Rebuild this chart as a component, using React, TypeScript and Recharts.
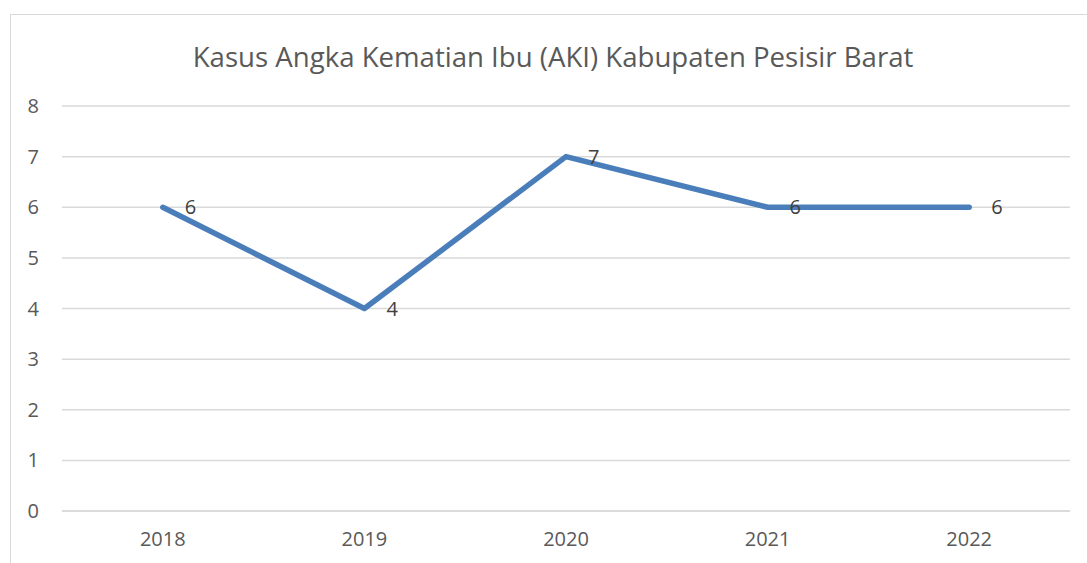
import React from 'react';
import { LineChart, Line, XAxis, YAxis, CartesianGrid, LabelList } from 'recharts';

const years = ['2018', '2019', '2020', '2021', '2022'];
const cases = [6, 4, 7, 6, 6];
const yTicks = [0, 1, 2, 3, 4, 5, 6, 7, 8];
const title = 'Kasus Angka Kematian Ibu (AKI) Kabupaten Pesisir Barat';

const data = years.map((y, i) => ({ year: y, value: cases[i] }));

const FONT = '"Open Sans", sans-serif';

export default function App() {
  return (
    <div style={{ position: 'absolute', left: 0, top: 0, width: 1087, height: 563, overflow: 'hidden', background: '#fff', fontFamily: FONT }}>
      <div style={{ position: 'absolute', left: 10, top: 14, width: 1200, height: 700, border: '1.5px solid #d9d9d9', boxSizing: 'border-box' }} />
      <div style={{ position: 'absolute', left: 0, top: 36, width: 1106, textAlign: 'center', fontSize: 27.6, color: '#595959', lineHeight: '40px', whiteSpace: 'nowrap' }}>
        {title}
      </div>
      <div style={{ position: 'absolute', left: 0, top: 0 }}>
        <LineChart width={1087} height={563} data={data} margin={{ top: 106, right: 17, bottom: 22, left: 0 }}>
          <CartesianGrid vertical={false} stroke="#d9d9d9" strokeWidth={1.5} />
          <XAxis
            dataKey="year"
            height={30}
            padding={{ left: 100.8, right: 100.8 }}
            axisLine={{ stroke: '#d9d9d9', strokeWidth: 1.5 }}
            tickLine={false}
            tick={{ fill: '#595959', fontSize: 20, fontFamily: FONT }}
            tickMargin={15}
          />
          <YAxis
            width={62}
            domain={[0, 8]}
            ticks={yTicks}
            axisLine={false}
            tickLine={false}
            tick={{ fill: '#595959', fontSize: 20, fontFamily: FONT }}
            tickMargin={17}
          />
          <Line
            type="linear"
            dataKey="value"
            stroke="#4a7ebb"
            strokeWidth={5.5}
            strokeLinecap="round"
            strokeLinejoin="round"
            dot={false}
            activeDot={false}
            isAnimationActive={false}
          >
            <LabelList dataKey="value" position="right" offset={22} fill="#404040" fontSize={20} fontFamily={FONT} />
          </Line>
        </LineChart>
      </div>
    </div>
  );
}
